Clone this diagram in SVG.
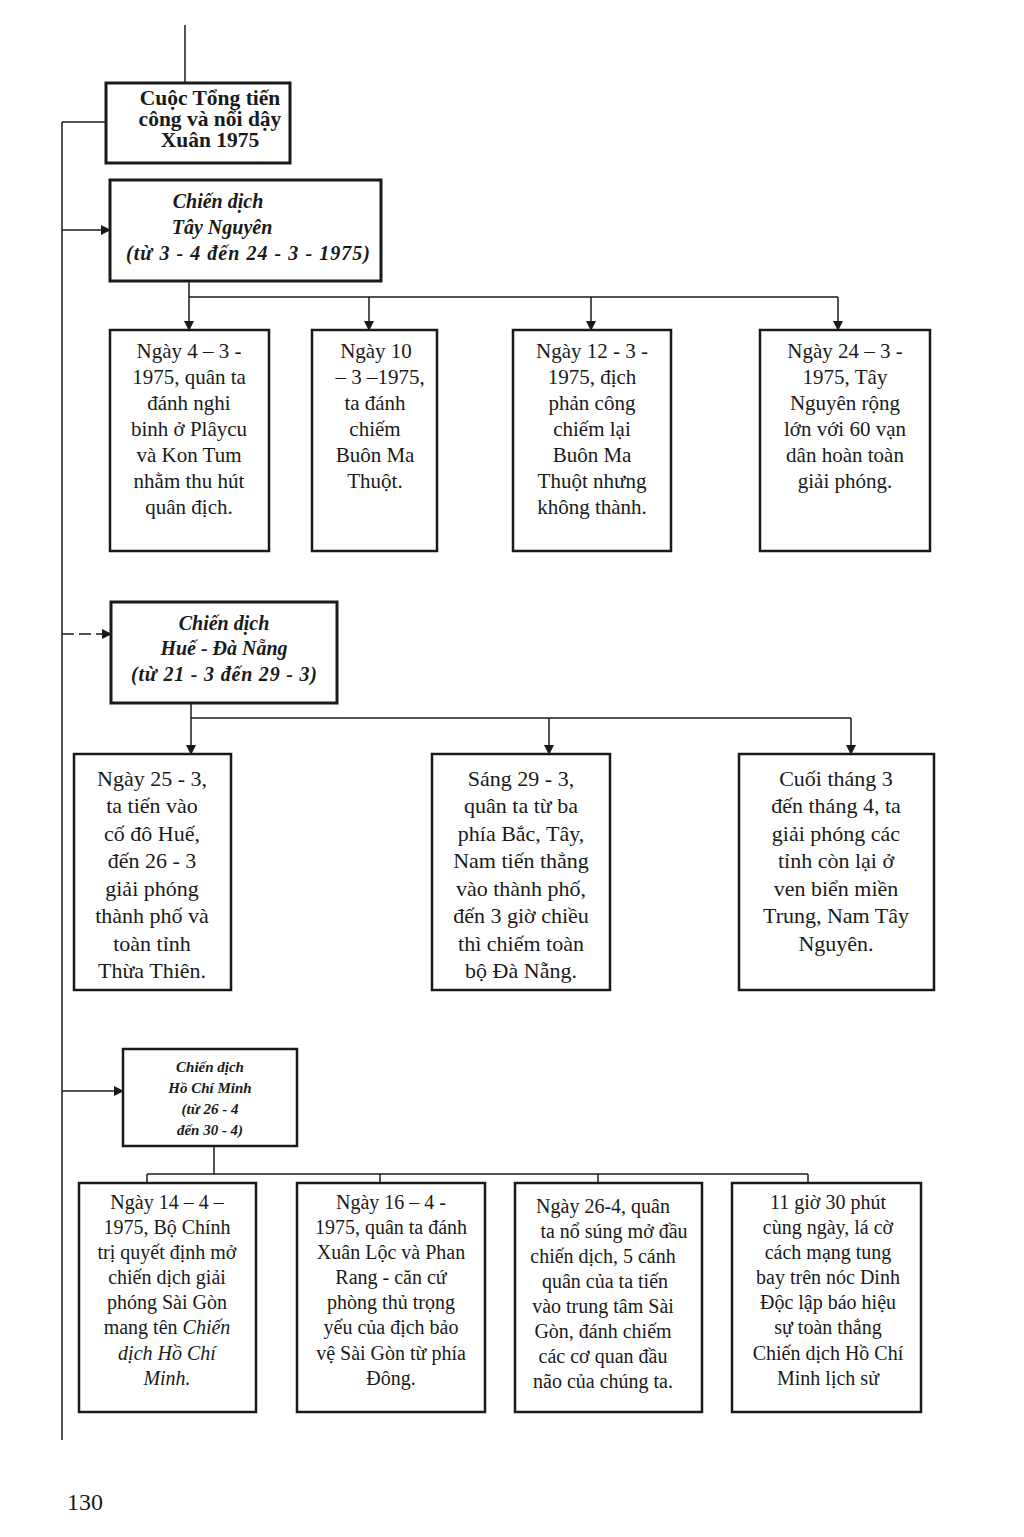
<svg xmlns="http://www.w3.org/2000/svg" width="1024" height="1537" viewBox="0 0 1024 1537">
<style>
.box{fill:#fff;stroke:#1a1a1a;stroke-width:2.5}
.thick{stroke-width:3}
.ln{fill:none;stroke:#1a1a1a;stroke-width:1.5}
text{font-family:"Liberation Serif","Times New Roman",serif;fill:#1a1a1a;text-anchor:middle}
.t1{font-size:21px}
.t2{font-size:22px}
.t3{font-size:20px}
.hd{font-weight:bold;font-size:21.5px}
.cp{font-weight:bold;font-style:italic;font-size:20px}
.cps{font-weight:bold;font-style:italic;font-size:15px}
.it{font-style:italic}
</style>
<defs>
<marker id="ah" markerWidth="10" markerHeight="10" refX="9" refY="5" orient="auto" markerUnits="userSpaceOnUse">
<path d="M0,0 L10,5 L0,10 Z" fill="#1a1a1a"/>
</marker>
</defs>
<rect width="1024" height="1537" fill="#fff"/>
<g id="connectors">
<line class="ln" x1="185" y1="25" x2="185" y2="83"/>
<line class="ln" x1="62" y1="122" x2="62" y2="1440"/>
<line class="ln" x1="62" y1="122" x2="106" y2="122"/>
<line class="ln" x1="62" y1="230" x2="110" y2="230" marker-end="url(#ah)"/>
<line class="ln" x1="189" y1="281" x2="189" y2="297"/>
<line class="ln" x1="189" y1="297" x2="838" y2="297"/>
<line class="ln" x1="189" y1="297" x2="189" y2="330" marker-end="url(#ah)"/>
<line class="ln" x1="369" y1="297" x2="369" y2="330" marker-end="url(#ah)"/>
<line class="ln" x1="591" y1="297" x2="591" y2="330" marker-end="url(#ah)"/>
<line class="ln" x1="838" y1="297" x2="838" y2="330" marker-end="url(#ah)"/>
<line class="ln" x1="62" y1="634" x2="111" y2="634" stroke-dasharray="12,5" marker-end="url(#ah)"/>
<line class="ln" x1="191" y1="703" x2="191" y2="718"/>
<line class="ln" x1="191" y1="718" x2="851" y2="718"/>
<line class="ln" x1="191" y1="718" x2="191" y2="754" marker-end="url(#ah)"/>
<line class="ln" x1="549" y1="718" x2="549" y2="754" marker-end="url(#ah)"/>
<line class="ln" x1="851" y1="718" x2="851" y2="754" marker-end="url(#ah)"/>
<line class="ln" x1="62" y1="1091" x2="123" y2="1091" marker-end="url(#ah)"/>
<line class="ln" x1="214" y1="1146" x2="214" y2="1174"/>
<line class="ln" x1="147" y1="1174" x2="808" y2="1174"/>
<line class="ln" x1="147" y1="1174" x2="147" y2="1183"/>
<line class="ln" x1="380" y1="1174" x2="380" y2="1183"/>
<line class="ln" x1="598" y1="1174" x2="598" y2="1183"/>
<line class="ln" x1="808" y1="1174" x2="808" y2="1183"/>
</g>
<g id="n-root">
<rect class="box thick" x="106" y="83" width="184" height="80"/>
<text class="hd" x="210" y="105">Cuộc Tổng tiến</text>
<text class="hd" x="210" y="126">công và nổi dậy</text>
<text class="hd" x="210" y="147">Xuân 1975</text>
</g>
<g id="n-taynguyen">
<rect class="box thick" x="110" y="180" width="271" height="101"/>
<text class="cp" x="218" y="208">Chiến dịch</text>
<text class="cp" x="222" y="234">Tây Nguyên</text>
<text class="cp" x="248" y="260" textLength="244" lengthAdjust="spacing">(từ 3 - 4 đến 24 - 3 - 1975)</text>
</g>
<g id="n-tn1">
<rect class="box" x="110" y="330" width="159" height="221"/>
<text class="t1" x="189" y="358">Ngày 4 – 3 -</text>
<text class="t1" x="189" y="384">1975, quân ta</text>
<text class="t1" x="189" y="410">đánh nghi</text>
<text class="t1" x="189" y="436">binh ở Plâycu</text>
<text class="t1" x="189" y="462">và Kon Tum</text>
<text class="t1" x="189" y="488">nhằm thu hút</text>
<text class="t1" x="189" y="514">quân địch.</text>
</g>
<g id="n-tn2">
<rect class="box" x="312" y="330" width="125" height="221"/>
<text class="t1" x="376" y="358">Ngày  10</text>
<text class="t1" x="380" y="384">– 3 –1975,</text>
<text class="t1" x="375" y="410">ta đánh</text>
<text class="t1" x="375" y="436">chiếm</text>
<text class="t1" x="375" y="462">Buôn Ma</text>
<text class="t1" x="375" y="488">Thuột.</text>
</g>
<g id="n-tn3">
<rect class="box" x="513" y="330" width="158" height="221"/>
<text class="t1" x="592" y="358">Ngày 12 - 3 -</text>
<text class="t1" x="592" y="384">1975, địch</text>
<text class="t1" x="592" y="410">phản công</text>
<text class="t1" x="592" y="436">chiếm lại</text>
<text class="t1" x="592" y="462">Buôn Ma</text>
<text class="t1" x="592" y="488">Thuột nhưng</text>
<text class="t1" x="592" y="514">không thành.</text>
</g>
<g id="n-tn4">
<rect class="box" x="760" y="330" width="170" height="221"/>
<text class="t1" x="845" y="358">Ngày 24 – 3 -</text>
<text class="t1" x="845" y="384">1975, Tây</text>
<text class="t1" x="845" y="410">Nguyên rộng</text>
<text class="t1" x="845" y="436">lớn với 60 vạn</text>
<text class="t1" x="845" y="462">dân hoàn toàn</text>
<text class="t1" x="845" y="488">giải phóng.</text>
</g>
<g id="n-hue">
<rect class="box thick" x="111" y="602" width="226" height="101"/>
<text class="cp" x="224" y="630">Chiến dịch</text>
<text class="cp" x="224" y="655">Huế - Đà Nẵng</text>
<text class="cp" x="224" y="681" textLength="186" lengthAdjust="spacing">(từ 21 - 3 đến 29 - 3)</text>
</g>
<g id="n-h1">
<rect class="box" x="74" y="754" width="157" height="236"/>
<text class="t2" x="152" y="786">Ngày 25 - 3,</text>
<text class="t2" x="152" y="813">ta tiến vào</text>
<text class="t2" x="152" y="841">cố đô Huế,</text>
<text class="t2" x="152" y="868">đến 26 - 3</text>
<text class="t2" x="152" y="896">giải phóng</text>
<text class="t2" x="152" y="923">thành phố và</text>
<text class="t2" x="152" y="951">toàn tỉnh</text>
<text class="t2" x="152" y="978">Thừa Thiên.</text>
</g>
<g id="n-h2">
<rect class="box" x="432" y="754" width="178" height="236"/>
<text class="t2" x="521" y="786">Sáng 29 - 3,</text>
<text class="t2" x="521" y="813">quân ta từ ba</text>
<text class="t2" x="521" y="841">phía Bắc, Tây,</text>
<text class="t2" x="521" y="868">Nam tiến thẳng</text>
<text class="t2" x="521" y="896">vào thành phố,</text>
<text class="t2" x="521" y="923">đến 3 giờ chiều</text>
<text class="t2" x="521" y="951">thì chiếm toàn</text>
<text class="t2" x="521" y="978">bộ Đà Nẵng.</text>
</g>
<g id="n-h3">
<rect class="box" x="739" y="754" width="195" height="236"/>
<text class="t2" x="836" y="786">Cuối tháng 3</text>
<text class="t2" x="836" y="813">đến tháng 4, ta</text>
<text class="t2" x="836" y="841">giải phóng các</text>
<text class="t2" x="836" y="868">tỉnh còn lại ở</text>
<text class="t2" x="836" y="896">ven biển miền</text>
<text class="t2" x="836" y="923">Trung, Nam Tây</text>
<text class="t2" x="836" y="951">Nguyên.</text>
</g>
<g id="n-hcm">
<rect class="box" x="123" y="1049" width="174" height="97"/>
<text class="cps" x="210" y="1072">Chiến dịch</text>
<text class="cps" x="210" y="1093">Hồ Chí Minh</text>
<text class="cps" x="210" y="1114">(từ 26 - 4</text>
<text class="cps" x="210" y="1135">đến 30 - 4)</text>
</g>
<g id="n-m1">
<rect class="box" x="79" y="1183" width="177" height="229"/>
<text class="t3" x="167" y="1209">Ngày 14 – 4 –</text>
<text class="t3" x="167" y="1234">1975, Bộ Chính</text>
<text class="t3" x="167" y="1259">trị quyết định mở</text>
<text class="t3" x="167" y="1284">chiến dịch giải</text>
<text class="t3" x="167" y="1309">phóng Sài Gòn</text>
<text class="t3" x="167" y="1334">mang  tên <tspan class="it">Chiến</tspan></text>
<text class="t3 it" x="167" y="1360">dịch Hồ Chí</text>
<text class="t3 it" x="167" y="1385">Minh.</text>
</g>
<g id="n-m2">
<rect class="box" x="297" y="1183" width="188" height="229"/>
<text class="t3" x="391" y="1209">Ngày 16 – 4 -</text>
<text class="t3" x="391" y="1234">1975, quân ta đánh</text>
<text class="t3" x="391" y="1259">Xuân Lộc và Phan</text>
<text class="t3" x="391" y="1284">Rang -  căn cứ</text>
<text class="t3" x="391" y="1309">phòng thủ trọng</text>
<text class="t3" x="391" y="1334">yếu của địch bảo</text>
<text class="t3" x="391" y="1360">vệ Sài Gòn từ phía</text>
<text class="t3" x="391" y="1385">Đông.</text>
</g>
<g id="n-m3">
<rect class="box" x="515" y="1183" width="187" height="229"/>
<text class="t3" x="603" y="1213">Ngày 26-4, quân</text>
<text class="t3" x="614" y="1238">ta nổ súng mở đầu</text>
<text class="t3" x="603" y="1263">chiến dịch, 5 cánh</text>
<text class="t3" x="605" y="1288">quân của ta tiến</text>
<text class="t3" x="603" y="1313">vào trung tâm Sài</text>
<text class="t3" x="603" y="1338">Gòn, đánh chiếm</text>
<text class="t3" x="603" y="1363">các cơ quan đầu</text>
<text class="t3" x="603" y="1388">não của chúng ta.</text>
</g>
<g id="n-m4">
<rect class="box" x="732" y="1183" width="189" height="229"/>
<text class="t3" x="828" y="1209">11 giờ 30 phút</text>
<text class="t3" x="828" y="1234">cùng ngày, lá cờ</text>
<text class="t3" x="828" y="1259">cách mạng tung</text>
<text class="t3" x="828" y="1284">bay trên nóc Dinh</text>
<text class="t3" x="828" y="1309">Độc lập báo hiệu</text>
<text class="t3" x="828" y="1334">sự toàn thắng</text>
<text class="t3" x="828" y="1360">Chiến dịch Hồ Chí</text>
<text class="t3" x="828" y="1385">Minh lịch sử</text>
</g>
<text x="85" y="1510" style="font-size:24px">130</text>
</svg>
